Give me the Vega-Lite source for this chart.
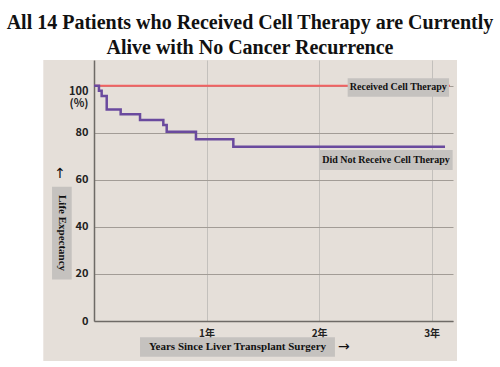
{
  "$schema": "https://vega.github.io/schema/vega-lite/v6.json",
  "width": 359,
  "height": 261,
  "autosize": {"type": "none"},
  "padding": {"left": 94, "top": 60, "right": 47, "bottom": 46},
  "background": "#e5dfd9",
  "config": {"view": {"stroke": null}},
  "layer": [
    {
      "data": {"values": [
        {"series": "Received Cell Therapy", "years": 0, "pct": 100},
        {"series": "Received Cell Therapy", "years": 3.163, "pct": 100},
        {"series": "Did Not Receive Cell Therapy", "years": 0, "pct": 100},
        {"series": "Did Not Receive Cell Therapy", "years": 0.044, "pct": 97.9},
        {"series": "Did Not Receive Cell Therapy", "years": 0.068, "pct": 95.7},
        {"series": "Did Not Receive Cell Therapy", "years": 0.113, "pct": 90.0},
        {"series": "Did Not Receive Cell Therapy", "years": 0.237, "pct": 87.9},
        {"series": "Did Not Receive Cell Therapy", "years": 0.409, "pct": 85.5},
        {"series": "Did Not Receive Cell Therapy", "years": 0.616, "pct": 83.4},
        {"series": "Did Not Receive Cell Therapy", "years": 0.646, "pct": 80.5},
        {"series": "Did Not Receive Cell Therapy", "years": 0.906, "pct": 77.3},
        {"series": "Did Not Receive Cell Therapy", "years": 1.238, "pct": 74.1},
        {"series": "Did Not Receive Cell Therapy", "years": 3.119, "pct": 74.1}
      ]},
      "mark": {"type": "line", "interpolate": "step-after"},
      "encoding": {
        "x": {
          "field": "years", "type": "quantitative",
          "scale": {"domain": [0, 3.19], "nice": false, "zero": false},
          "axis": {
            "title": null, "values": [1, 2, 3], "labelExpr": "datum.value + '年'",
            "grid": true, "gridColor": "#c3c0bc", "gridWidth": 1,
            "domainColor": "#6e6a66", "domainWidth": 1.5, "ticks": false,
            "labelFont": "Noto Sans CJK JP", "labelFontSize": 10, "labelFontWeight": "bold",
            "labelColor": "#222222", "labelPadding": 7, "labelFlush": false
          }
        },
        "y": {
          "field": "pct", "type": "quantitative",
          "scale": {"domain": [0, 111], "nice": false, "zero": false},
          "axis": {
            "title": null, "values": [0, 20, 40, 60, 80, 100],
            "labelExpr": "datum.value == 100 ? ['100', '(%)'] : datum.label",
            "labelBaseline": {"condition": {"test": "datum.value == 100", "value": "top"}, "value": "middle"},
            "grid": true, "gridColor": "#a29c96", "gridWidth": 1,
            "domainColor": "#6e6a66", "domainWidth": 1.5, "ticks": false,
            "labelFont": "Noto Sans CJK JP", "labelFontSize": 11, "labelFontWeight": "bold",
            "labelColor": "#222222", "labelPadding": 6, "labelFlush": false, "labelLineHeight": 12
          }
        },
        "color": {
          "field": "series", "type": "nominal",
          "scale": {"domain": ["Received Cell Therapy", "Did Not Receive Cell Therapy"], "range": ["#f26262", "#6a4a9e"]},
          "legend": null
        },
        "strokeWidth": {
          "field": "series", "type": "nominal",
          "scale": {"domain": ["Received Cell Therapy", "Did Not Receive Cell Therapy"], "range": [2, 2.5]},
          "legend": null
        }
      }
    },
    {
      "data": {"values": [{}]},
      "mark": {"type": "rect", "color": "#ffffff"},
      "encoding": {
        "x": {"datum": -3, "type": "quantitative"}, "x2": {"datum": -0.4505},
        "y": {"datum": -40, "type": "quantitative"}, "y2": {"datum": 150}
      }
    },
    {
      "data": {"values": [{}]},
      "mark": {"type": "rect", "color": "#ffffff"},
      "encoding": {
        "x": {"datum": 3.2255, "type": "quantitative"}, "x2": {"datum": 6},
        "y": {"datum": -40, "type": "quantitative"}, "y2": {"datum": 150}
      }
    },
    {
      "data": {"values": [{}]},
      "mark": {"type": "rect", "color": "#ffffff"},
      "encoding": {
        "x": {"datum": -3, "type": "quantitative"}, "x2": {"datum": 6},
        "y": {"datum": -40, "type": "quantitative"}, "y2": {"datum": -17.01}
      }
    },
    {
      "data": {"values": [{}]},
      "mark": {"type": "rect", "color": "#ffffff"},
      "encoding": {
        "x": {"datum": -3, "type": "quantitative"}, "x2": {"datum": 6},
        "y": {"datum": 111, "type": "quantitative"}, "y2": {"datum": 150}
      }
    },
    {
      "data": {"values": [{}]},
      "mark": {"type": "rect", "color": "#c5c2bf"},
      "encoding": {
        "x": {"datum": 2.254, "type": "quantitative"}, "x2": {"datum": 3.155},
        "y": {"datum": 95.4, "type": "quantitative"}, "y2": {"datum": 103.2}
      }
    },
    {
      "data": {"values": [{}]},
      "mark": {"type": "rect", "color": "#c5c2bf"},
      "encoding": {
        "x": {"datum": 1.999, "type": "quantitative"}, "x2": {"datum": 3.187},
        "y": {"datum": 64.2, "type": "quantitative"}, "y2": {"datum": 72.7}
      }
    },
    {
      "data": {"values": [{}]},
      "mark": {"type": "rect", "color": "#c5c2bf"},
      "encoding": {
        "x": {"datum": 0.409, "type": "quantitative"}, "x2": {"datum": 2.141},
        "y": {"datum": -15.18, "type": "quantitative"}, "y2": {"datum": -6.93}
      }
    },
    {
      "data": {"values": [{}]},
      "mark": {"type": "rect", "color": "#c5c2bf"},
      "encoding": {
        "x": {"datum": -0.373, "type": "quantitative"}, "x2": {"datum": -0.198},
        "y": {"datum": 17.7, "type": "quantitative"}, "y2": {"datum": 57.1}
      }
    },
    {
      "data": {"values": [{}]},
      "mark": {"type": "text", "font": "Liberation Serif", "fontSize": 20, "fontWeight": "bold", "color": "#111111", "align": "center", "baseline": "alphabetic", "lineHeight": 25,
        "text": ["All 14 Patients who Received Cell Therapy are Currently", "Alive with No Cancer Recurrence"]},
      "encoding": {
        "x": {"datum": 1.386, "type": "quantitative"},
        "y": {"datum": 124.2, "type": "quantitative"}
      }
    },
    {
      "data": {"values": [{}]},
      "mark": {"type": "text", "font": "Liberation Serif", "fontSize": 10, "fontWeight": "bold", "color": "#111111", "align": "center", "baseline": "middle", "text": "Received Cell Therapy"},
      "encoding": {
        "x": {"datum": 2.704, "type": "quantitative"},
        "y": {"datum": 99.5, "type": "quantitative"}
      }
    },
    {
      "data": {"values": [{}]},
      "mark": {"type": "text", "font": "Liberation Serif", "fontSize": 10, "fontWeight": "bold", "color": "#111111", "align": "center", "baseline": "middle", "text": "Did Not Receive Cell Therapy"},
      "encoding": {
        "x": {"datum": 2.595, "type": "quantitative"},
        "y": {"datum": 68.5, "type": "quantitative"}
      }
    },
    {
      "data": {"values": [{}]},
      "mark": {"type": "text", "font": "Liberation Serif", "fontSize": 11, "fontWeight": "bold", "color": "#111111", "align": "center", "baseline": "middle", "text": "Years Since Liver Transplant Surgery"},
      "encoding": {
        "x": {"datum": 1.275, "type": "quantitative"},
        "y": {"datum": -11.06, "type": "quantitative"}
      }
    },
    {
      "data": {"values": [{}]},
      "mark": {"type": "text", "font": "DejaVu Sans", "fontSize": 14, "color": "#111111", "align": "center", "baseline": "middle", "text": "→"},
      "encoding": {
        "x": {"datum": 2.221, "type": "quantitative"},
        "y": {"datum": -11.06, "type": "quantitative"}
      }
    },
    {
      "data": {"values": [{}]},
      "mark": {"type": "text", "font": "Liberation Serif", "fontSize": 11, "fontWeight": "bold", "color": "#111111", "align": "center", "baseline": "middle", "angle": 90, "text": "Life Expectancy"},
      "encoding": {
        "x": {"datum": -0.284, "type": "quantitative"},
        "y": {"datum": 37.4, "type": "quantitative"}
      }
    },
    {
      "data": {"values": [{}]},
      "mark": {"type": "text", "font": "DejaVu Sans", "fontSize": 14, "color": "#111111", "align": "center", "baseline": "middle", "text": "↑"},
      "encoding": {
        "x": {"datum": -0.302, "type": "quantitative"},
        "y": {"datum": 62.5, "type": "quantitative"}
      }
    }
  ]
}
